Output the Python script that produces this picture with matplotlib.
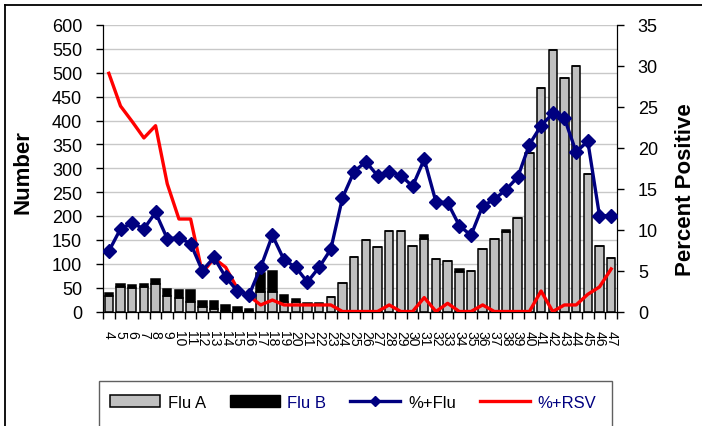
import matplotlib.pyplot as plt
from matplotlib.patches import Patch, Rectangle
from matplotlib.lines import Line2D
import numpy as np

plt.rcParams['font.family'] = ['Liberation Sans', 'DejaVu Sans']

# semanas y datos
weeks = ["4", "5", "6", "7", "8", "9", "10", "11", "12", "13", "14", "15",
         "16", "17", "18", "19", "20", "21", "22", "23", "24", "25", "26", "27",
         "28", "29", "30", "31", "32", "33", "34", "35", "36", "37", "38", "39",
         "40", "41", "42", "43", "44", "45", "46", "47"]

flu_a = [33, 52, 50, 52, 58, 32, 28, 19, 10, 6, 2, 1, 1, 40, 40, 20, 19, 14,
         15, 30, 59, 114, 150, 135, 168, 168, 138, 152, 110, 105, 83, 84, 130,
         151, 166, 196, 331, 469, 548, 490, 515, 289, 138, 113]

flu_b = [5, 6, 6, 6, 10, 16, 16, 25, 13, 17, 12, 9, 5, 41, 45, 15, 7, 4, 3, 1,
         0, 0, 0, 0, 0, 0, 0, 8, 0, 0, 5, 0, 0, 0, 5, 0, 0, 0, 0, 0, 0, 0, 0, 0]

pct_flu = [7.36, 10.1, 10.8, 10.1, 12.1, 8.9, 9.0, 8.3, 5.0, 6.6,
           4.2, 2.5, 2.0, 5.4, 9.3, 6.3, 5.4, 3.6, 5.4, 7.6,
           13.9, 17.1, 18.3, 16.6, 17.1, 16.6, 15.3, 18.6, 13.4, 13.3,
           10.5, 9.3, 12.9, 13.7, 14.9, 16.4, 20.4, 22.7, 24.2, 23.6,
           19.5, 20.8, 11.7, 11.7]

pct_rsv = [29.1, 25.1, 23.2, 21.2, 22.7, 15.6, 11.3, 11.3, 4.7, 6.5,
           5.4, 2.8, 1.9, 0.8, 1.4, 0.8, 0.8, 0.8, 0.8, 0.8,
           0, 0, 0, 0, 0.8, 0, 0, 1.7, 0, 1.0,
           0, 0, 0.8, 0, 0, 0, 0, 2.5, 0, 0.8,
           0.8, 2.1, 3.0, 5.2]

navy = "#000080"
x = np.arange(len(weeks))

fig = plt.figure(figsize=(7.02, 4.27), dpi=100)
ax = fig.add_axes([103 / 702, 1 - 312.5 / 427, 514 / 702, 286.5 / 427])

# barras apiladas
ax.bar(x, flu_a, width=0.72, color="#C0C0C0", edgecolor="black", linewidth=1.1, zorder=2)
ax.bar(x, flu_b, width=0.72, bottom=flu_a, color="black", edgecolor="black", linewidth=1.1, zorder=2)

ax.set_xlim(-0.5, len(weeks) - 0.5)
ax.set_ylim(0, 600)
ax.set_yticks(range(0, 601, 50))
ax.grid(axis="y", color="#C8C8C8", linewidth=1.0, zorder=0)
ax.set_axisbelow(True)
ax.tick_params(axis="y", labelsize=13, length=5, width=1, pad=10, direction="out")
ax.set_xticks(x)
ax.set_xticklabels(weeks, rotation=-90, fontsize=10)
ax.tick_params(axis="x", which="major", length=0, pad=13)
ax.set_xticks(np.arange(-0.5, len(weeks), 1), minor=True)
ax.tick_params(axis="x", which="minor", length=5, width=1, direction="out")
ax.spines["top"].set_visible(False)
ax.set_ylabel("Number", fontsize=16, fontweight="bold")
ax.yaxis.set_label_coords(-0.136, 0.49)

# lineas de porcentaje
ax2 = ax.twinx()
ax2.plot(x, pct_flu, color=navy, linewidth=2.4, marker="D", markersize=7, zorder=4)
ax2.plot(x, pct_rsv, color="#FF0000", linewidth=2.4, zorder=3)
ax2.set_ylim(0, 35)
ax2.set_yticks(range(0, 36, 5))
ax2.tick_params(axis="y", labelsize=13, length=5, width=1, pad=10, direction="out")
ax2.spines["top"].set_visible(False)
ax2.set_ylabel("Percent Positive", fontsize=16, fontweight="bold")
ax2.yaxis.set_label_coords(1.113, 0.43)

# leyenda
handles = [Patch(facecolor="#C0C0C0", edgecolor="black", linewidth=1.1),
           Patch(facecolor="black", edgecolor="black"),
           Line2D([], [], color=navy, linewidth=2.4, marker="D", markersize=5),
           Line2D([], [], color="#FF0000", linewidth=2.4)]
leg = fig.legend(handles, ["Flu A", "Flu B", "%+Flu", "%+RSV"], ncol=4,
                 loc="center left", bbox_to_anchor=(110 / 702, 0.0555),
                 frameon=False, fontsize=12, handlelength=3.0, handletextpad=0.45,
                 columnspacing=1.45, borderpad=0, borderaxespad=0)
for t, c in zip(leg.get_texts(), ["black", navy, "black", navy]):
    t.set_color(c)

fig.add_artist(Rectangle((99.5 / 702, -0.05), 512 / 702, 0.05 + (427 - 382.3) / 427,
                         transform=fig.transFigure, fill=False, edgecolor="#606060",
                         linewidth=1.0, clip_on=False))

# marco exterior (arriba e izquierda)
fig.add_artist(Line2D([4.7 / 702, 4.7 / 702], [0, 1 - 6 / 427], transform=fig.transFigure,
                      color="black", linewidth=1.3))
fig.add_artist(Line2D([4.7 / 702, 1], [1 - 6 / 427, 1 - 6 / 427], transform=fig.transFigure,
                      color="black", linewidth=1.3))

fig.savefig("out.png", dpi=100)
